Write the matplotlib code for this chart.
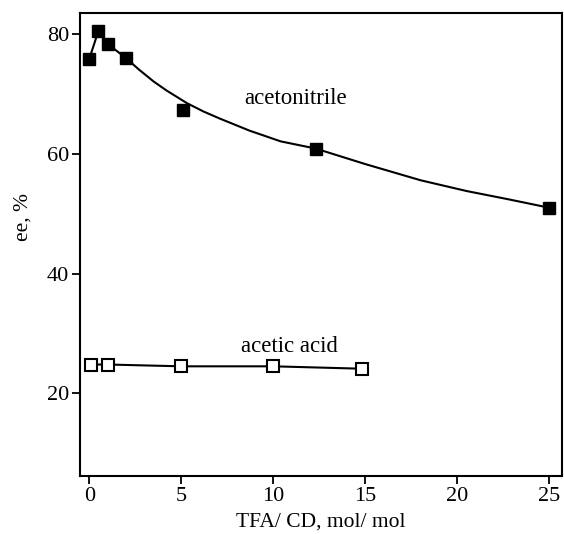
import matplotlib.pyplot as plt

plt.rcParams['font.family'] = ['Liberation Serif', 'DejaVu Serif']

# acetonitrile measurements
acn_x = [0, 0.5, 1.0, 2.0, 5.1, 12.3, 25.0]
acn_y = [75.9, 80.6, 78.4, 76.0, 67.4, 60.9, 51.0]

# fitted curve for acetonitrile (x >= 2)
fit_x = [2.0, 2.7, 3.5, 4.2, 5.3, 6.2, 7.1, 8.7, 10.4, 12.3, 15.0, 18.0, 20.5, 22.8, 25.0]
fit_y = [76.0, 74.1, 72.1, 70.6, 68.5, 67.1, 65.9, 63.9, 62.1, 60.9, 58.3, 55.6, 53.8, 52.4, 51.0]

# acetic acid measurements
aa_x = [0.1, 1.0, 5.0, 10.0, 14.8]
aa_y = [24.8, 24.8, 24.5, 24.5, 24.1]

fig = plt.figure(figsize=(5.64, 5.34), dpi=100)
ax = fig.add_axes([0.142, 0.109, 0.855, 0.866])

# straight segments between the first low-ratio points, then the fit
ax.plot(acn_x[:4], acn_y[:4], color='black', lw=1.5)
ax.plot(fit_x, fit_y, color='black', lw=1.5)
ax.plot(acn_x, acn_y, ls='none', marker='s', ms=8.5, mfc='black', mec='black')

ax.plot(aa_x, aa_y, color='black', lw=1.5, marker='s', ms=8.5,
        mfc='white', mec='black', mew=1.5)

ax.text(11.2, 69.2, 'acetonitrile', fontsize=16.5, ha='center', va='center')
ax.text(10.9, 27.8, 'acetic acid', fontsize=16.5, ha='center', va='center')

ax.set_xlim(-0.5, 25.7)
ax.set_ylim(6.2, 83.5)
ax.set_xticks([0, 5, 10, 15, 20, 25])
ax.set_yticks([20, 40, 60, 80])
ax.tick_params(direction='out', length=6, width=1.3, pad=2, labelsize=16, colors='black')
for s in ax.spines.values():
    s.set_linewidth(1.5)

ax.set_xlabel('TFA/ CD, mol/ mol', fontsize=15.5)
ax.set_ylabel('ee, %', fontsize=15.5)
ax.xaxis.label.set_va('center')
ax.yaxis.label.set_va('center')
ax.yaxis.set_label_coords(-0.118, 0.56)
ax.xaxis.set_label_coords(0.5, -0.1)

fig.savefig('out.png', dpi=100)
